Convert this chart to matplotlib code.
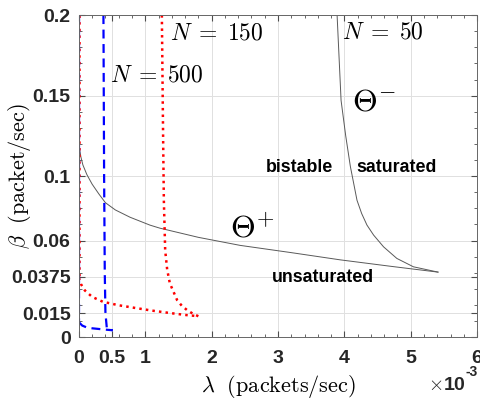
import matplotlib
matplotlib.use('Agg')
import matplotlib.pyplot as plt
from matplotlib.ticker import MultipleLocator

plt.rcParams['mathtext.fontset'] = 'cm'

# lambda in units of 1e-3 packets/sec, beta in packet/sec
# N = 50 : Theta+ (lower boundary of bistable region) and Theta- (upper)
theta_plus_lam = [0.0, 0.01, 0.03, 0.06, 0.12, 0.2, 0.3, 0.4, 0.55, 0.77, 1.07, 1.22, 1.8, 2.43, 3.2, 3.94, 4.7, 5.41]
theta_plus_beta = [0.122, 0.117, 0.112, 0.107, 0.101, 0.095, 0.089, 0.0835, 0.079, 0.0745, 0.0696, 0.0677, 0.062, 0.057, 0.0525, 0.048, 0.044, 0.0404]
theta_minus_lam = [3.89, 3.95, 4.02, 4.09, 4.19, 4.26, 4.34, 4.44, 4.59, 4.79, 5.04, 5.41]
theta_minus_beta = [0.2, 0.147, 0.125, 0.106, 0.085, 0.0768, 0.0696, 0.0634, 0.0561, 0.0489, 0.0437, 0.0404]

# N = 150
n150_upper_lam = [0.0, 0.0]
n150_upper_beta = [0.2, 0.037]
n150_lower_lam = [0.0, 0.03, 0.09, 0.2, 0.36, 0.6, 0.87, 1.1, 1.37, 1.6, 1.8]
n150_lower_beta = [0.037, 0.033, 0.029, 0.025, 0.022, 0.0198, 0.018, 0.0165, 0.015, 0.0138, 0.013]
n150_right_lam = [1.25, 1.27, 1.28, 1.30, 1.33, 1.37, 1.48, 1.55, 1.63, 1.72, 1.8]
n150_right_beta = [0.2, 0.12, 0.085, 0.054, 0.042, 0.0335, 0.023, 0.0195, 0.0168, 0.0145, 0.013]

# N = 500
n500_upper_lam = [0.0, 0.0]
n500_upper_beta = [0.2, 0.0093]
n500_lower_lam = [0.0, 0.05, 0.12, 0.2, 0.32, 0.42, 0.51]
n500_lower_beta = [0.0093, 0.0072, 0.006, 0.0055, 0.005, 0.0046, 0.0043]
n500_right_lam = [0.37, 0.38, 0.39, 0.40, 0.42, 0.46, 0.51]
n500_right_beta = [0.2, 0.1, 0.04, 0.015, 0.006, 0.0048, 0.0043]

xticks = [0, 0.5, 1, 2, 3, 4, 5, 6]
xtick_labels = ['0', '0.5', '1', '2', '3', '4', '5', '6']
yticks = [0, 0.015, 0.0375, 0.06, 0.1, 0.15, 0.2]
ytick_labels = ['0', '0.015', '0.0375', '0.06', '0.1', '0.15', '0.2']

fig = plt.figure(figsize=(4.81, 3.99), dpi=100)
ax = fig.add_axes([0.164, 0.155, 0.828, 0.807])

ax.plot(theta_plus_lam, theta_plus_beta, color='0.35', lw=0.7)
ax.plot(theta_minus_lam, theta_minus_beta, color='0.35', lw=0.7)

red = dict(color='red', ls=':', lw=1.8)
ax.plot(n150_upper_lam, n150_upper_beta, **red)
ax.plot(n150_lower_lam, n150_lower_beta, **red)
ax.plot(n150_right_lam, n150_right_beta, **red)

blue = dict(color='blue', ls=(0, (4, 2.5)), lw=1.6)
ax.plot(n500_upper_lam, n500_upper_beta, **blue)
ax.plot(n500_lower_lam, n500_lower_beta, **blue)
ax.plot(n500_right_lam, n500_right_beta, **blue)

ax.set_xlim(0, 6)
ax.set_ylim(0, 0.2)
ax.set_xticks(xticks)
ax.set_xticklabels(xtick_labels)
ax.set_yticks(yticks)
ax.set_yticklabels(ytick_labels)
ax.xaxis.set_minor_locator(MultipleLocator(0.2))
ax.yaxis.set_minor_locator(MultipleLocator(0.01))
ax.tick_params(which='both', direction='in', top=True, right=True, color='0.3')
ax.tick_params(which='major', length=4, labelsize=14)
ax.tick_params(axis='y', which='major', pad=6)
ax.tick_params(axis='x', which='major', pad=9)
ax.tick_params(which='minor', length=2)
for lbl in ax.get_xticklabels() + ax.get_yticklabels():
    lbl.set_fontweight('bold')
    lbl.set_fontfamily('Liberation Sans')
    lbl.set_color('0.15')
ax.grid(True, color='0.88', lw=0.7)
for s in ax.spines.values():
    s.set_color('0.4')
    s.set_linewidth(0.7)

ax.set_xlabel(r'$\lambda\ \ \mathrm{(packets/sec)}$', fontsize=16)
ax.xaxis.set_label_coords(0.5, -0.112)
ax.set_ylabel(r'$\beta\ \ \mathrm{(packet/sec)}$', fontsize=16)
ax.yaxis.set_label_coords(-0.116, 0.5)
fig.text(466 / 481, 1 - 386 / 399, r'$\times$' + '10', ha='right', va='center',
         fontsize=14, fontweight='bold', family='Liberation Sans', color='0.15')
fig.text(466 / 481, 1 - 372 / 399, '-3', ha='left', va='center',
         fontsize=10, fontweight='bold', family='Liberation Sans', color='0.15')

ax.text(1.37, 0.189, r'$N\;=\;150$', fontsize=17, va='center')
ax.text(3.97, 0.190, r'$N\;=\;50$', fontsize=17, va='center')
ax.text(0.47, 0.163, r'$N\;=\;500$', fontsize=17, va='center')
ax.text(4.12, 0.146, r'$\Theta^{-}$', fontsize=23, va='center')
ax.text(2.28, 0.067, r'$\Theta^{+}$', fontsize=23, va='center')
ax.text(2.82, 0.1056, 'bistable', fontsize=12.8, fontweight='bold', family='Liberation Sans', va='center')
ax.text(4.18, 0.1056, 'saturated', fontsize=12.8, fontweight='bold', family='Liberation Sans', va='center')
ax.text(2.90, 0.0373, 'unsaturated', fontsize=12.8, fontweight='bold', family='Liberation Sans', va='center')

fig.savefig('out.png', dpi=100)
